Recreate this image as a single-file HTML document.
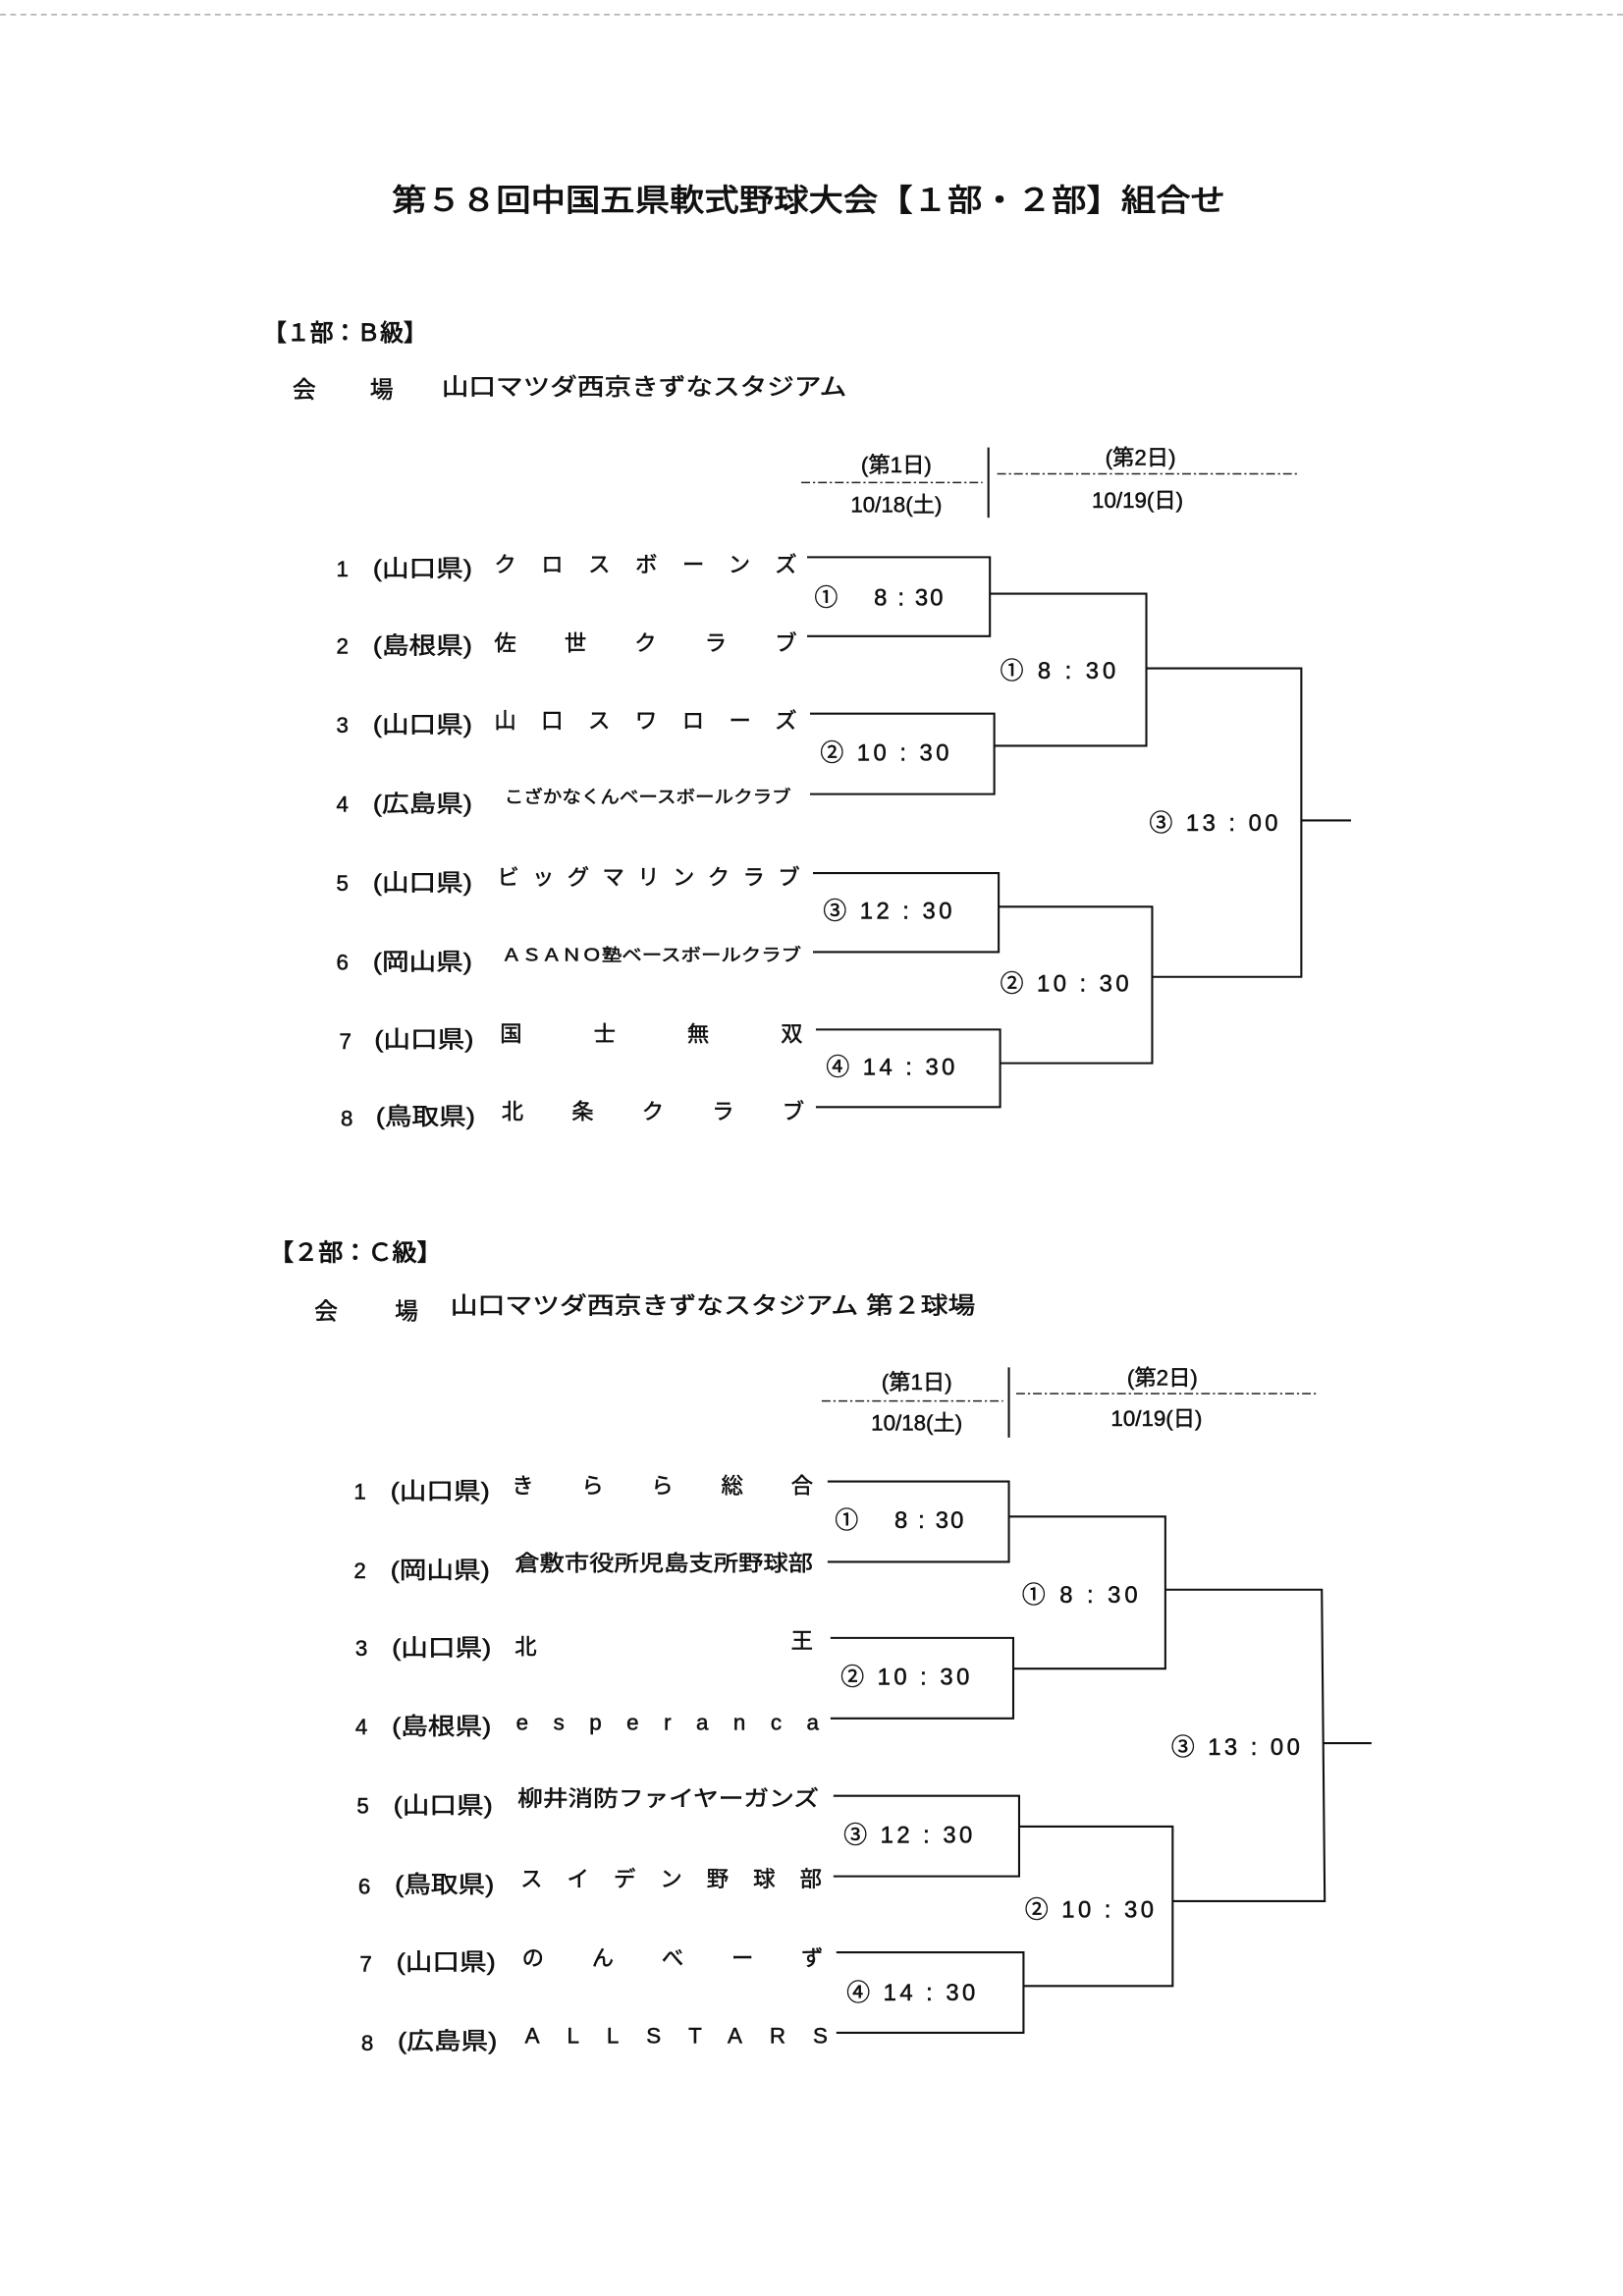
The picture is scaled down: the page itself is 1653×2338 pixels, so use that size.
<!DOCTYPE html>
<html><head><meta charset="utf-8"><style>
html,body{margin:0;padding:0;background:#fff;}
svg{display:block;}
text{font-family:"Liberation Sans","Noto Sans CJK JP",sans-serif;fill:#111;dominant-baseline:central;stroke:#111;stroke-width:0.35;}
.l{stroke:#111;stroke-width:1.4;fill:none;}
.d{stroke:#222;stroke-width:1;fill:none;stroke-dasharray:6 2 1.5 2;}
.b{stroke-width:0.6;}
</style></head><body>
<svg width="1653" height="2338" viewBox="0 0 1110 1570" xmlns="http://www.w3.org/2000/svg">
<line x1="0" y1="10" x2="1110" y2="10" stroke="#999" stroke-width="0.8" stroke-dasharray="4 3"/>
<text class="b" x="268" y="137" font-size="21" textLength="570" lengthAdjust="spacingAndGlyphs">第５８回中国五県軟式野球大会【１部・２部】組合せ</text>

<!-- Section 1 -->
<text class="b" x="180" y="228" font-size="16" textLength="112" lengthAdjust="spacingAndGlyphs">【１部：Ｂ級】</text>
<text x="200" y="267" font-size="16">会</text>
<text x="253" y="267" font-size="16">場</text>
<text x="302" y="265" font-size="16" textLength="277" lengthAdjust="spacingAndGlyphs">山口マツダ西京きずなスタジアム</text>
<text x="613" y="318" font-size="15" text-anchor="middle">(第1日)</text>
<text x="613" y="345" font-size="15" text-anchor="middle">10/18(土)</text>
<text x="780" y="313" font-size="15" text-anchor="middle">(第2日)</text>
<text x="778" y="342" font-size="15" text-anchor="middle">10/19(日)</text>
<line class="d" x1="548" y1="330" x2="672" y2="330"/>
<line class="d" x1="682" y1="324" x2="888" y2="324"/>
<line class="l" x1="676" y1="306" x2="676" y2="354"/>

<g font-size="15">
<text x="230" y="389">1</text><text x="255" y="389" font-size="16" textLength="68" lengthAdjust="spacingAndGlyphs">(山口県)</text><text x="338" y="386" textLength="207" lengthAdjust="spacing">クロスボーンズ</text>
<text x="230" y="442">2</text><text x="255" y="442" font-size="16" textLength="68" lengthAdjust="spacingAndGlyphs">(島根県)</text><text x="338" y="440" textLength="207" lengthAdjust="spacing">佐世クラブ</text>
<text x="230" y="496">3</text><text x="255" y="496" font-size="16" textLength="68" lengthAdjust="spacingAndGlyphs">(山口県)</text><text x="338" y="493" textLength="207" lengthAdjust="spacing">山口スワローズ</text>
<text x="230" y="550">4</text><text x="255" y="550" font-size="16" textLength="68" lengthAdjust="spacingAndGlyphs">(広島県)</text><text x="345" y="545" font-size="12" textLength="196" lengthAdjust="spacingAndGlyphs">こざかなくんベースボールクラブ</text>
<text x="230" y="604">5</text><text x="255" y="604" font-size="16" textLength="68" lengthAdjust="spacingAndGlyphs">(山口県)</text><text x="340" y="600" textLength="207" lengthAdjust="spacing">ビッグマリンクラブ</text>
<text x="230" y="658">6</text><text x="255" y="658" font-size="16" textLength="68" lengthAdjust="spacingAndGlyphs">(岡山県)</text><text x="343" y="653" font-size="12" textLength="205" lengthAdjust="spacingAndGlyphs">ＡＳＡＮＯ塾ベースボールクラブ</text>
<text x="232" y="712">7</text><text x="256" y="711" font-size="16" textLength="68" lengthAdjust="spacingAndGlyphs">(山口県)</text><text x="342" y="707" textLength="207" lengthAdjust="spacing">国士無双</text>
<text x="233" y="765">8</text><text x="257" y="764" font-size="16" textLength="68" lengthAdjust="spacingAndGlyphs">(鳥取県)</text><text x="343" y="760" textLength="207" lengthAdjust="spacing">北条クラブ</text>
</g>
<polyline class="l" points="552,381 677,381 677,435 552,435"/>
<polyline class="l" points="554,488 680,488 680,543 554,543"/>
<polyline class="l" points="556,597 683,597 683,651 556,651"/>
<polyline class="l" points="558,704 684,704 684,757 558,757"/>
<polyline class="l" points="677,406 784,406 784,510 680,510"/>
<polyline class="l" points="683,620 788,620 788,727 684,727"/>
<polyline class="l" points="784,457 890,457 890,668 788,668"/>
<line class="l" x1="890" y1="561" x2="924" y2="561"/>
<g font-size="16">
<text x="557" y="409" textLength="88" lengthAdjust="spacing">① 　8 : 30</text>
<text x="561" y="515" textLength="88" lengthAdjust="spacing">② 10 : 30</text>
<text x="563" y="623" textLength="88" lengthAdjust="spacing">③ 12 : 30</text>
<text x="565" y="730" textLength="88" lengthAdjust="spacing">④ 14 : 30</text>
<text x="684" y="459" textLength="79" lengthAdjust="spacing">① 8 : 30</text>
<text x="684" y="673" textLength="88" lengthAdjust="spacing">② 10 : 30</text>
<text x="786" y="563" textLength="88" lengthAdjust="spacing">③ 13 : 00</text>
</g>

<!-- Section 2 -->
<text class="b" x="184" y="857" font-size="16" textLength="118" lengthAdjust="spacingAndGlyphs">【２部：Ｃ級】</text>
<text x="215" y="897" font-size="16">会</text>
<text x="270" y="897" font-size="16">場</text>
<text x="308" y="893" font-size="16" textLength="359" lengthAdjust="spacingAndGlyphs">山口マツダ西京きずなスタジアム 第２球場</text>
<text x="627" y="945" font-size="15" text-anchor="middle">(第1日)</text>
<text x="627" y="973" font-size="15" text-anchor="middle">10/18(土)</text>
<text x="795" y="942" font-size="15" text-anchor="middle">(第2日)</text>
<text x="791" y="970" font-size="15" text-anchor="middle">10/19(日)</text>
<line class="d" x1="562" y1="958" x2="686" y2="958"/>
<line class="d" x1="695" y1="953" x2="900" y2="953"/>
<line class="l" x1="690" y1="935" x2="690" y2="983"/>

<g font-size="15">
<text x="242" y="1020">1</text><text x="267" y="1020" font-size="16" textLength="68" lengthAdjust="spacingAndGlyphs">(山口県)</text><text x="350" y="1016" textLength="206" lengthAdjust="spacing">きらら総合</text>
<text x="242" y="1074">2</text><text x="267" y="1074" font-size="16" textLength="68" lengthAdjust="spacingAndGlyphs">(岡山県)</text><text x="352" y="1069" textLength="204" lengthAdjust="spacingAndGlyphs">倉敷市役所児島支所野球部</text>
<text x="243" y="1127">3</text><text x="268" y="1127" font-size="16" textLength="68" lengthAdjust="spacingAndGlyphs">(山口県)</text><text x="352" y="1126">北</text><text x="541" y="1122">王</text>
<text x="243" y="1181">4</text><text x="268" y="1181" font-size="16" textLength="68" lengthAdjust="spacingAndGlyphs">(島根県)</text><text x="353" y="1178" textLength="207" lengthAdjust="spacing">esperanca</text>
<text x="244" y="1235">5</text><text x="269" y="1235" font-size="16" textLength="68" lengthAdjust="spacingAndGlyphs">(山口県)</text><text x="354" y="1230" textLength="206" lengthAdjust="spacingAndGlyphs">柳井消防ファイヤーガンズ</text>
<text x="245" y="1290">6</text><text x="270" y="1289" font-size="16" textLength="68" lengthAdjust="spacingAndGlyphs">(鳥取県)</text><text x="356" y="1285" textLength="206" lengthAdjust="spacing">スイデン野球部</text>
<text x="246" y="1343">7</text><text x="271" y="1342" font-size="16" textLength="68" lengthAdjust="spacingAndGlyphs">(山口県)</text><text x="357" y="1339" textLength="206" lengthAdjust="spacing">のんべーず</text>
<text x="247" y="1397">8</text><text x="272" y="1396" font-size="16" textLength="68" lengthAdjust="spacingAndGlyphs">(広島県)</text><text x="359" y="1392" textLength="207" lengthAdjust="spacing">ALLSTARS</text>
</g>
<polyline class="l" points="566,1013 690,1013 690,1068 566,1068"/>
<polyline class="l" points="568,1120 693,1120 693,1175 568,1175"/>
<polyline class="l" points="570,1228 697,1228 697,1283 570,1283"/>
<polyline class="l" points="572,1335 700,1335 700,1390 572,1390"/>
<polyline class="l" points="690,1037 797,1037 797,1141 693,1141"/>
<polyline class="l" points="697,1249 802,1249 802,1358 700,1358"/>
<polyline class="l" points="797,1087 904,1087 906,1300 802,1300"/>
<line class="l" x1="905" y1="1192" x2="938" y2="1192"/>
<g font-size="16">
<text x="571" y="1040" textLength="88" lengthAdjust="spacing">① 　8 : 30</text>
<text x="575" y="1147" textLength="88" lengthAdjust="spacing">② 10 : 30</text>
<text x="577" y="1255" textLength="88" lengthAdjust="spacing">③ 12 : 30</text>
<text x="579" y="1363" textLength="88" lengthAdjust="spacing">④ 14 : 30</text>
<text x="699" y="1091" textLength="79" lengthAdjust="spacing">① 8 : 30</text>
<text x="701" y="1306" textLength="88" lengthAdjust="spacing">② 10 : 30</text>
<text x="801" y="1195" textLength="88" lengthAdjust="spacing">③ 13 : 00</text>
</g>
</svg>
</body></html>
